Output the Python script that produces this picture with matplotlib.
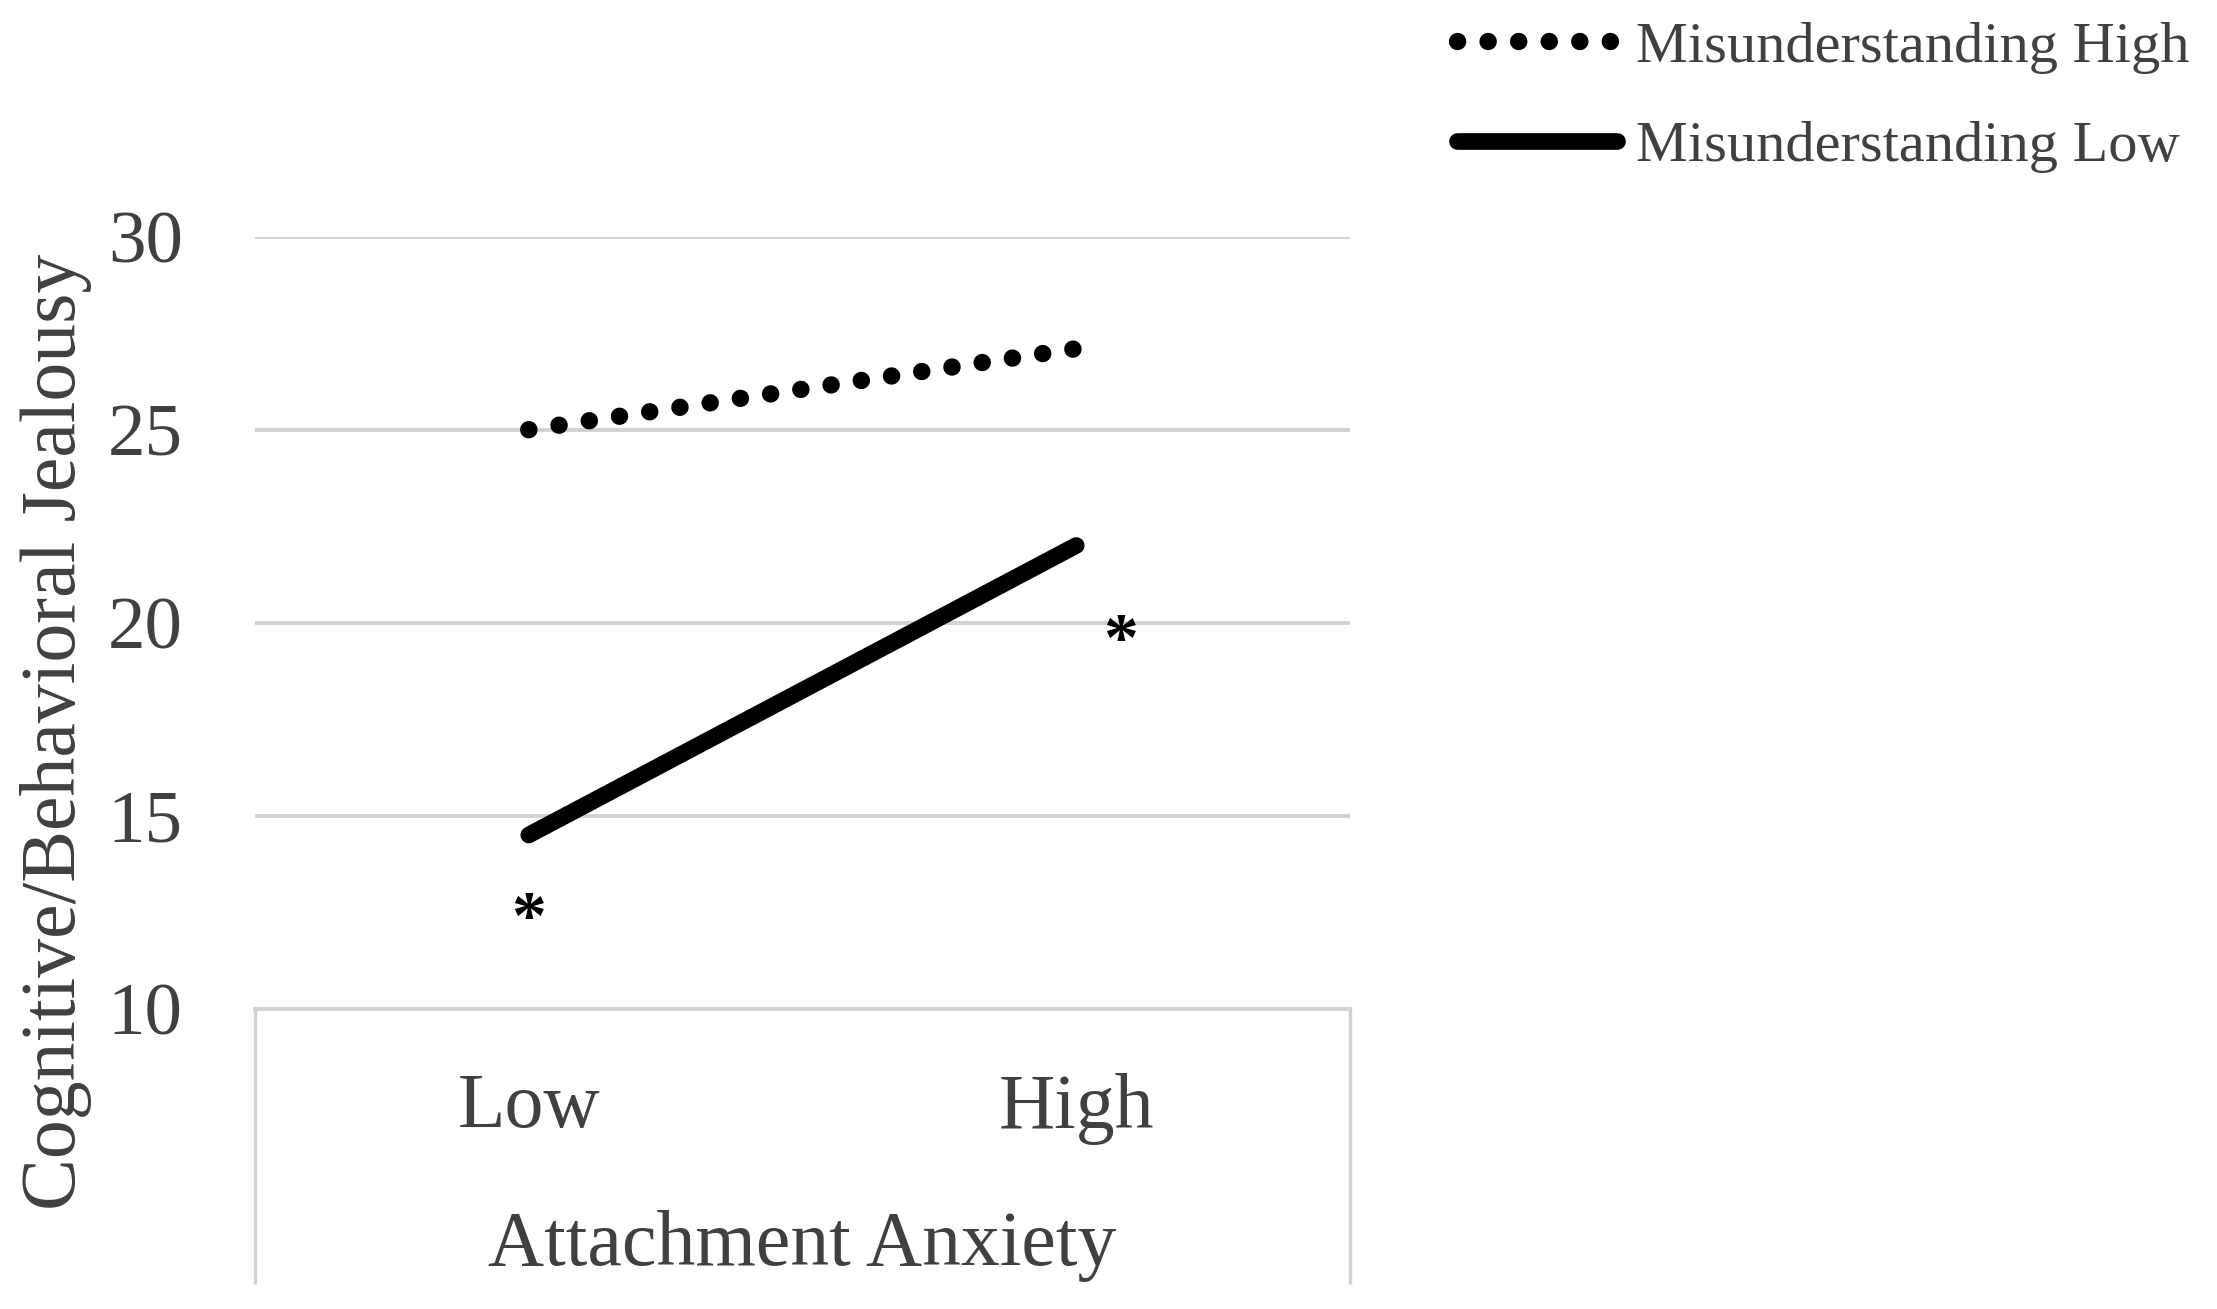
import matplotlib
matplotlib.use('Agg')
import matplotlib.pyplot as plt

# ---- data ----
categories = ['Low', 'High']
misunderstanding_high = [25.0, 27.1]
misunderstanding_low = [14.5, 22.0]
series_labels = ['Misunderstanding High', 'Misunderstanding Low']
y_ticks = [10, 15, 20, 25, 30]
sig_x = [0.0, 1.08]
sig_y = [12.68, 19.87]
sig_text = ['*', '*']
x_label = 'Attachment Anxiety'
y_label = 'Cognitive/Behavioral Jealousy'

plt.rcParams['font.family'] = ['Liberation Serif', 'DejaVu Serif']
text_col = '#404040'
grid_col = '#d2d2d2'

fig = plt.figure(figsize=(22.17, 13.09), dpi=100)
ax = fig.add_axes([0.11502, 0.22941, 0.49391, 0.58977])

xs = list(range(len(categories)))
ax.plot(xs, misunderstanding_high, color='black', lw=12.5,
        linestyle=(0, (0.01, 1.75)), dash_capstyle='round',
        label=series_labels[0], zorder=3)
ax.plot(xs, misunderstanding_low, color='black', lw=12,
        solid_capstyle='round', label=series_labels[1], zorder=3)

for sx, sy, st in zip(sig_x, sig_y, sig_text):
    ax.annotate(st, xy=(sx, sy), xytext=(0, -24), textcoords='offset points',
                ha='center', va='baseline', fontsize=50, fontweight='bold',
                color='black')

ax.set_xlim(-0.5, len(categories) - 0.5)
ax.set_ylim(y_ticks[0], y_ticks[-1])
ax.set_yticks(y_ticks)
ax.yaxis.grid(True, color=grid_col, lw=2.8)
ax.set_axisbelow(True)
for s in ['top', 'right', 'left']:
    ax.spines[s].set_visible(False)
ax.spines['bottom'].set_color(grid_col)
ax.spines['bottom'].set_linewidth(2.8)

ax.tick_params(axis='y', length=0, pad=52, labelsize=54, labelcolor=text_col)
ax.set_xticks(xs)
ax.set_xticklabels(categories)
ax.tick_params(axis='x', which='major', length=0, pad=46, labelsize=56,
               labelcolor=text_col)
ax.set_xticks([-0.5, len(categories) - 0.5], minor=True)
ax.tick_params(axis='x', which='minor', length=198, width=2.4, color=grid_col,
               direction='out')

ax.set_xlabel(x_label, fontsize=56, color=text_col, va='baseline')
ax.xaxis.set_label_coords(0.5, -0.332)
ax.set_ylabel(y_label, fontsize=56, color=text_col, va='baseline')
ax.yaxis.set_label_coords(-0.1644, 0.358)

fig.legend(loc='upper left', bbox_to_anchor=(0.657, 0.984), frameon=False,
           fontsize=42, handlelength=2.75, handletextpad=0.33,
           labelspacing=0.80, borderpad=0, borderaxespad=0,
           labelcolor=text_col)

fig.savefig('out.png', dpi=100, facecolor='white')
